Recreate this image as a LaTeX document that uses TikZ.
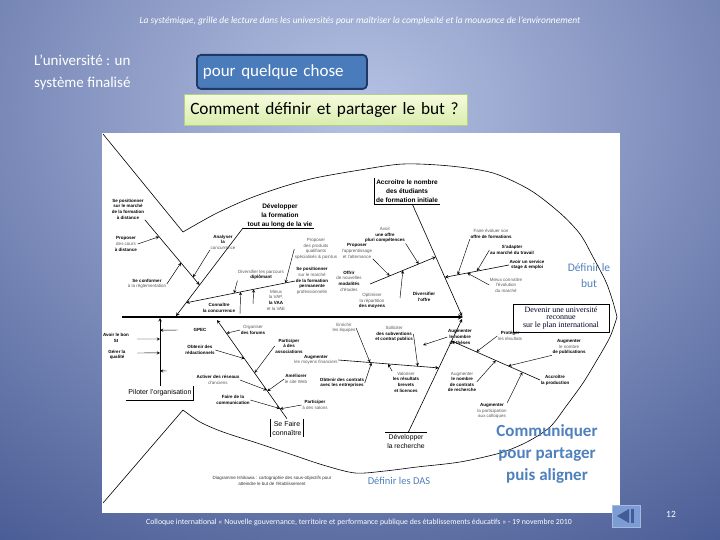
\documentclass[tikz,border=0pt]{standalone}
\usepackage{fontspec}
\setmainfont{Carlito}
\newfontfamily\diagfont{Liberation Sans}
\newfontfamily\goalfont{Liberation Serif}
\usetikzlibrary{calc}
\definecolor{bgdark}{HTML}{1A2F72}
\definecolor{bglight}{HTML}{B6C2E4}
\definecolor{boxblue}{HTML}{4A7BBA}
\definecolor{boxedge}{HTML}{1F3864}
\definecolor{greentop}{HTML}{F5FBDD}
\definecolor{greenbot}{HTML}{D9EDAE}
\definecolor{greenedge}{HTML}{B5CF86}
\definecolor{slideblue}{HTML}{4F81BD}
\definecolor{iconblue}{HTML}{7E9CD4}
\newcommand\blk[1]{{\bfseries\color{black}#1}}

\begin{document}
\begin{tikzpicture}[x=1pt,y=-1pt,>=stealth,
  tiny/.style={font=\diagfont\fontsize{4.5}{5.6}\selectfont,text=black!65,align=center,inner sep=0.5pt},
  catb/.style={font=\diagfont\bfseries\fontsize{6.5}{8.8}\selectfont,align=center,inner sep=1.5pt},
  catn/.style={font=\diagfont\fontsize{7}{9}\selectfont,align=center,inner sep=2pt},
  bone/.style={line width=0.6pt},
  spine/.style={line width=1.2pt},
  arr/.style={line width=0.45pt,->},
  slide/.style={text=slideblue,align=center,inner sep=0pt}]
\useasboundingbox (0,0) rectangle (720,540);

% background of the slide
\begin{scope}
\clip (0,0) rectangle (720,540);
\fill[bgdark] (0,0) rectangle (720,540);
\shade[inner color=bglight,outer color=bgdark] (360,110) ellipse (920 and 760);
\end{scope}

\node[font=\itshape\fontsize{9.5}{11}\selectfont,text=white] (title) at (360,21)
  {La systémique, grille de lecture dans les universités pour maîtriser la complexité et la mouvance de l’environnement};
\node[text=white,font=\fontsize{15}{22}\selectfont,align=left,anchor=north west,inner sep=0pt] (intro) at (34,55)
  {L’université : un\\système finalisé};
\node[draw=boxedge,line width=1.8pt,fill=boxblue,rounded corners=4pt,anchor=north west,
  minimum height=34pt,text width=158pt,inner xsep=6pt,align=left,text=white,
  font=\fontsize{17}{19}\selectfont] (pour) at (196,54) {pour quelque chose};
\node[draw=greenedge,line width=0.5pt,top color=greentop,bottom color=greenbot,anchor=north west,
  minimum height=31pt,text width=271pt,inner xsep=6pt,align=left,
  font=\fontsize{17.3}{19}\selectfont] (but) at (184,94) {Comment définir et partager le but ?};

% the Ishikawa picture
\coordinate (imgA) at (102,133);
\coordinate (imgB) at (620,513);
\fill[white] (imgA) rectangle (imgB);
\begin{scope}
\clip (imgA) rectangle (imgB);

% fish outline
\draw[bone] (103,134) -- (183,232);
\draw[bone] plot[smooth] coordinates {(183,232) (215,214) (248,199) (282,187) (315,178) (360,170)
  (403,164) (450,166) (493,173) (530,190) (560,213) (580,234) (593,257) (606,282) (613,302) (617,317)};
\draw[bone] plot[smooth] coordinates {(617,317) (610,337) (597,360) (583,383) (567,405) (550,427)
  (527,442) (500,453) (460,462) (417,467) (385,471) (355,473) (323,465) (290,454) (257,443)
  (223,432) (200,422) (183,410)};
\draw[bone] (183,410) -- (103,503);

% spine and goal
\coordinate (tail) at (122,317);
\coordinate (head) at (463,317);
\draw[spine,->] (tail) -- (head);
\node[draw,line width=0.6pt,font=\goalfont\fontsize{8}{7.8}\selectfont,text=black!85!blue,align=center,
  minimum width=96pt,minimum height=28pt,inner sep=1pt] (goal) at (561,318)
  {Devenir une université\\reconnue\\sur le plan international};

% main categories
\node[catb] (catF) at (280,216) {Développer\\la formation\\tout au long de la vie};
\node[catb] (catA) at (407,191) {Accroitre le nombre\\des étudiants\\de formation initiale};
\node[catn,minimum height=14pt] (catP) at (160,393) {Piloter l’organisation};
\node[catn] (catS) at (287,428) {Se Faire\\connaître};
\node[catn,font=\diagfont\fontsize{6.8}{9}\selectfont] (catR) at (406,442) {Développer\\la recherche};

\coordinate (bF1) at (243,228);
\coordinate (bF2) at (176,316);
\coordinate (bA1) at ($(catA.south west)!.58!(catA.south east)$);
\coordinate (bA2) at (462,316);
\coordinate (bS2) at (217,320);
\coordinate (bR1) at ($(catR.north west)!.55!(catR.north east)$);
\coordinate (bR2) at (462,319);
\coordinate (bP2) at (160,318);

\draw[bone] (bF1) -- (catF.south east |- bF1);
\draw[bone,->] (bF1) -- (bF2);
\draw[bone] (catA.north west) -- (catA.south west) -- (catA.south east);
\draw[bone,->] (bA1) -- (bA2);
\draw[bone] (catP.north east) -- (catP.south east) -- (catP.south west);
\draw[bone,->] (catP.north) -- (bP2);
\draw[bone] (catS.north west) -- (catS.south west);
\draw[bone] (catS.north east) -- (catS.south east);
\draw[bone,->] (catS.north) -- (bS2);
\draw[bone] (catR.north west) -- (catR.north east);
\draw[bone,->] (bR1) -- (bR2);

% formation tout au long de la vie
\node[tiny] (t1) at (128,209) {\blk{Se positionner}\\\blk{sur le marché}\\\blk{de la formation}\\\blk{à distance}};
\node[tiny] (t2) at (126,244) {\blk{Proposer}\\des cours\\\blk{à distance}};
\node[tiny] (t3) at (147,284) {\blk{Se conformer}\\à la réglementation};
\node[tiny] (t4) at (223,242) {\blk{Analyser}\\\blk{la}\\concurrence};
\node[tiny] (t5) at (219,308) {\blk{Connaître}\\\blk{la concurrence}};
\node[tiny] (t6) at (312,281) {\blk{Se positionner}\\sur le marché\\\blk{de la formation}\\\blk{permanente}\\professionnelle};
\node[tiny] (t7) at (316,249) {Proposer\\des produits\\qualifiants\\spécialisés \& pointus};
\node[tiny] (t8) at (261,275) {Diversifier les parcours\\\blk{diplômant}};
\node[tiny] (t9) at (276,300) {Mieux\\la VAP,\\\blk{la VAA}\\et la VAE};
\coordinate (s1a) at (t1.south east);
\coordinate (s1b) at ($(bF1)!.648!(bF2)$);
\coordinate (s2a) at (t6.west);
\coordinate (s2b) at ($(bF1)!.85!(bF2)$);
\coordinate (a5) at (240,314);
\coordinate (a9) at (253,304);
\draw[bone,->] (s1a) -- (s1b);
\draw[bone,->] (s2a) -- (s2b);
\draw[arr] (t2.east) -- ($(s1a)!.26!(s1b)$);
\draw[arr] (t3.east) -- ($(s1a)!.66!(s1b)$);
\draw[arr] (t4.south west) -- ($(s1a)!.88!(s1b)$);
\draw[arr] (t7.west) -- ($(s2a)!.09!(s2b)$);
\draw[arr] (t8.south west) -- ($(s2a)!.56!(s2b)$);
\draw[arr] (a9) -- ($(s2a)!.38!(s2b)$);
\draw[arr] (a5) -- ($(s2a)!.5!(s2b)$);

% etudiants de formation initiale
\node[tiny] (t10) at (357,251) {\blk{Proposer}\\l’apprentissage\\et l’alternance};
\node[tiny] (t11) at (385,235) {Avoir\\\blk{une offre}\\\blk{pluri compétences}};
\node[tiny] (t12) at (349,281) {\blk{Offrir}\\de nouvelles\\\blk{modalités}\\d’études};
\node[tiny] (t13) at (372,301) {Optimiser\\la répartition\\\blk{des moyens}};
\node[tiny] (t14) at (424,297) {\blk{Diversifier}\\\blk{l’offre}};
\node[tiny] (t15) at (491,234) {Faire évoluer son\\\blk{offre de formations}};
\node[tiny] (t16) at (512,250) {\blk{S’adapter}\\\blk{au marché du travail}};
\node[tiny] (t17) at (527,265) {\blk{Avoir un service}\\\blk{stage \& emploi}};
\node[tiny] (t18) at (506,285) {Mieux connaître\\l’évolution\\du marché};
\coordinate (s3a) at (370,284);
\coordinate (s3b) at ($(bA1)!.473!(bA2)$);
\coordinate (s4a) at (t17.west);
\coordinate (s4b) at ($(bA1)!.655!(bA2)$);
\coordinate (a13) at (400,298);
\draw[bone,->] (s3a) -- (s3b);
\draw[bone,->] (s4a) -- (s4b);
\draw[arr] (t11.south east) -- ($(s3a)!.74!(s3b)$);
\draw[arr] (t10.south east) -- ($(s3a)!.3!(s3b)$);
\draw[arr] (a13) -- ($(s3a)!.5!(s3b)$);
\draw[arr] (t15.south west) -- ($(s4a)!.8!(s4b)$);
\draw[arr] (t16.west) -- ($(s4a)!.5!(s4b)$);
\draw[arr] (t18.west) -- ($(s4a)!.65!(s4b)$);

% piloter l'organisation
\node[tiny] (t19) at (116,338) {\blk{Avoir le bon}\\\blk{SI}};
\node[tiny] (t20) at (117,355) {\blk{Gérer la}\\\blk{qualité}};
\node[tiny] (t21) at (200,330) {\blk{GPEC}};
\coordinate (a19) at (137,339);
\coordinate (a20) at (137,353);
\coordinate (a21) at (178,330);
\coordinate (a22) at (167,371);
\draw[arr] (a19) -- ($(catP.north)!.69!(bP2)$);
\draw[arr] (a20) -- ($(catP.north)!.485!(bP2)$);
\draw[arr] (a21) -- ($(catP.north)!.82!(bP2)$);
\draw[arr] (a22) -- ($(catP.north)!.22!(bP2)$);

% se faire connaitre
\node[tiny] (t22) at (253,330) {Organiser\\\blk{des forums}};
\node[tiny] (t23) at (200,350) {\blk{Obtenir des}\\\blk{rédactionnels}};
\node[tiny] (t24) at (289,346) {\blk{Participer}\\\blk{à des}\\\blk{associations}};
\node[tiny] (t26) at (218,380) {\blk{Activer des réseaux}\\d’anciens};
\node[tiny] (t27) at (296,379) {\blk{Améliorer}\\le site Web};
\node[tiny] (t28) at (233,400) {\blk{Faire de la}\\\blk{communication}};
\node[tiny] (t29) at (315,405) {\blk{Participer}\\à des salons};
\draw[arr] (t22.west) -- ($(catS.north)!.866!(bS2)$);
\draw[arr] (t23.east) -- ($(catS.north)!.608!(bS2)$);
\draw[arr] (t24.west) -- ($(catS.north)!.464!(bS2)$);
\draw[arr] (t26.east) -- ($(catS.north)!.289!(bS2)$);
\draw[arr] (t27.west) -- ($(catS.north)!.28!(bS2)$);
\draw[arr] (t28.east) -- ($(catS.north)!.103!(bS2)$);
\draw[arr] (t29.west) -- ($(catS.north)!.1!(bS2)$);

% developper la recherche
\node[tiny] (t30) at (316,360) {\blk{Augmenter}\\les moyens financiers};
\node[tiny] (t31) at (344,328) {Enrichir\\les équipes};
\node[tiny] (t32) at (342,383) {\blk{Obtenir des contrats}\\\blk{avec les entreprises}};
\node[tiny] (t33) at (394,334) {Solliciter\\\blk{des subventions}\\\blk{et contrat publics}};
\node[tiny] (t34) at (406,382) {Valoriser\\\blk{les résultats}\\\blk{brevets}\\\blk{et licences}};
\node[tiny] (t35) at (460,337) {\blk{Augmenter}\\\blk{le nombre}\\\blk{de thèses}};
\node[tiny] (t36) at (555,380) {\blk{Accroître}\\\blk{la production}};
\node[tiny] (t37) at (510,336) {\blk{Protéger}\\les résultats};
\node[tiny] (t38) at (569,347) {\blk{Augmenter}\\le nombre\\\blk{de publications}};
\node[tiny] (t39) at (462,382) {Augmenter\\\blk{le nombre}\\\blk{de contrats}\\\blk{de recherche}};
\node[tiny] (t40) at (492,411) {\blk{Augmenter}\\la participation\\aux colloques};
\coordinate (s5a) at (t30.east);
\coordinate (s5b) at ($(bR1)!.57!(bR2)$);
\coordinate (s6a) at (t36.west);
\coordinate (s6b) at ($(bR1)!.807!(bR2)$);
\coordinate (a35) at (423,345);
\draw[bone,->] (s5a) -- (s5b);
\draw[bone,->] (s6a) -- (s6b);
\draw[arr] (t31.east) -- ($(s5a)!.316!(s5b)$);
\draw[arr] (t32.east) -- ($(s5a)!.33!(s5b)$);
\draw[arr] (t33.east) -- ($(s5a)!.79!(s5b)$);
\draw[arr] (t34.north west) -- ($(s5a)!.495!(s5b)$);
\draw[arr] (t35.west) -- (a35);
\draw[arr] (t37.west) -- ($(s6a)!.72!(s6b)$);
\draw[arr] (t38.south west) -- ($(s6a)!.36!(s6b)$);
\draw[arr] (t39.east) -- ($(s6a)!.5!(s6b)$);
\draw[arr] (t40.north east) -- ($(s6a)!.2!(s6b)$);

\node[tiny,text=black!80] (caption) at (272,481)
  {Diagramme Ishikawa : cartographie des sous-objectifs pour\\atteindre le but de l’établissement};
\end{scope}

% comments over the picture
\node[slide,font=\fontsize{11.5}{16}\selectfont] (defbut) at (589,276) {Définir le\\but};
\node[slide,font=\fontsize{10.5}{12}\selectfont] (defdas) at (399,481) {Définir les DAS};
\node[slide,font=\bfseries\fontsize{17}{22}\selectfont] (comm) at (547,454) {Communiquer\\pour partager\\puis aligner};

% footer
\node[text=white,font=\fontsize{7.8}{9}\selectfont] (foot) at (359,522)
  {Colloque international « Nouvelle gouvernance, territoire et performance publique des établissements éducatifs » - 19 novembre 2010};
\node[draw=iconblue!70!white,fill=iconblue,minimum width=28pt,minimum height=22pt,inner sep=0pt] (prev) at (626,516) {};
\fill[bgdark!60!iconblue] ([xshift=-9pt]prev.center) -- ([xshift=3pt,yshift=7pt]prev.center)
  -- ([xshift=3pt,yshift=-7pt]prev.center) -- cycle;
\fill[bgdark!60!iconblue] ([xshift=4.5pt,yshift=7pt]prev.center) rectangle ([xshift=8pt,yshift=-7pt]prev.center);
\node[text=white,font=\fontsize{9.5}{11}\selectfont] (page) at (671,514) {12};
\end{tikzpicture}
\end{document}
